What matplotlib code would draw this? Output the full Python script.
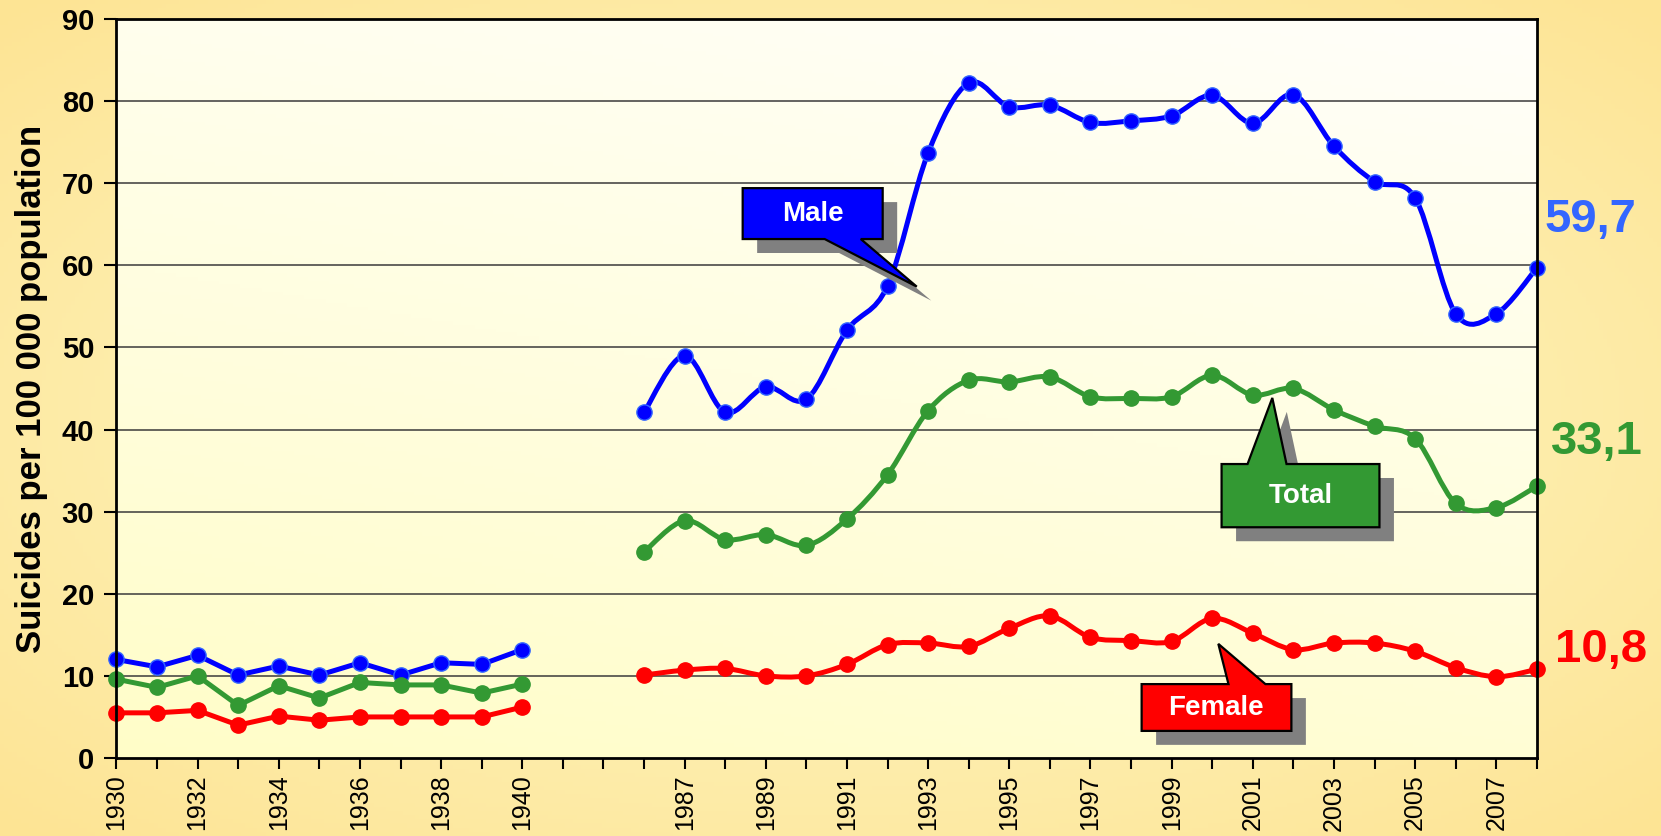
import numpy as np
import matplotlib
matplotlib.use("Agg")
import matplotlib.pyplot as plt
from matplotlib.path import Path
from matplotlib.patches import PathPatch, Polygon

plt.rcParams['font.family'] = ['Liberation Sans', 'DejaVu Sans']

# data
years_early = [1930, 1931, 1932, 1933, 1934, 1935, 1936, 1937, 1938, 1939, 1940]
years_late = [1986, 1987, 1988, 1989, 1990, 1991, 1992, 1993, 1994, 1995, 1996, 1997,
              1998, 1999, 2000, 2001, 2002, 2003, 2004, 2005, 2006, 2007, 2008]

male_early = [12.0, 11.1, 12.5, 10.1, 11.2, 10.1, 11.6, 10.1, 11.6, 11.4, 13.2]
total_early = [9.6, 8.6, 10.0, 6.4, 8.8, 7.3, 9.2, 8.9, 8.9, 7.9, 9.0]
female_early = [5.5, 5.5, 5.8, 4.0, 5.1, 4.6, 5.0, 5.0, 5.0, 5.0, 6.2]

male_late = [42.1, 49.0, 42.1, 45.2, 43.7, 52.1, 57.5, 73.7, 82.2, 79.3, 79.5, 77.4,
             77.6, 78.2, 80.7, 77.3, 80.8, 74.5, 70.2, 68.2, 54.1, 54.1, 59.7]
total_late = [25.1, 28.9, 26.6, 27.2, 25.9, 29.1, 34.5, 42.3, 46.0, 45.8, 46.4, 44.0,
              43.8, 44.0, 46.6, 44.2, 45.0, 42.4, 40.4, 38.9, 31.0, 30.5, 33.1]
female_late = [10.1, 10.7, 10.9, 10.0, 10.0, 11.4, 13.8, 14.0, 13.6, 15.8, 17.3, 14.7,
               14.3, 14.2, 17.0, 15.2, 13.2, 14.0, 14.0, 13.0, 11.0, 9.9, 10.8]

gap_labels = ['', '']
categories = [str(y) for y in years_early] + gap_labels + [str(y) for y in years_late]

BLUE, GREEN, RED = '#0000FF', '#339933', '#FF0000'

x_early = np.arange(len(years_early))
x_late = np.arange(len(years_late)) + len(years_early) + len(gap_labels)


def smooth_path(xs, ys):
    pts = np.column_stack([xs, ys]).astype(float)
    n = len(pts)
    verts = [pts[0]]
    codes = [Path.MOVETO]
    for i in range(n - 1):
        p0 = pts[max(i - 1, 0)]
        p1 = pts[i]
        p2 = pts[i + 1]
        p3 = pts[min(i + 2, n - 1)]
        verts += [p1 + (p2 - p0) / 6.0, p2 - (p3 - p1) / 6.0, p2]
        codes += [Path.CURVE4] * 3
    return Path(verts, codes)


fig = plt.figure(figsize=(16.61, 8.36), dpi=100)

# figure background gradient
bg = fig.add_axes([0, 0, 1, 1], zorder=-10)
gy, gx = np.mgrid[0:1:200j, 0:1:400j]
r = np.clip(np.sqrt((gx - 0.5) ** 2 + (gy - 0.5) ** 2) / 0.7, 0, 1)
c_in = np.array([255, 250, 205]) / 255.0
c_out = np.array([253, 228, 148]) / 255.0
bg.imshow(c_in + (c_out - c_in) * r[..., None], aspect='auto', extent=[0, 1, 0, 1])
bg.axis('off')

ax = fig.add_axes([0.0701, 0.0933, 0.8552, 0.8840])
ax.set_xlim(0, len(categories) - 1)
ax.set_ylim(0, 90)

# plot area gradient
py, px = np.mgrid[0:1:200j, 0:1:400j]
t = np.clip(0.75 * py + 0.25 * (1 - px), 0, 1)
a_top = np.array([255, 255, 250]) / 255.0
a_bot = np.array([255, 253, 200]) / 255.0
ax.imshow(a_top + (a_bot - a_top) * t[..., None], aspect='auto',
          extent=[0, len(categories) - 1, 0, 90], zorder=0)

for v in range(10, 90, 10):
    ax.axhline(v, color='#3a3a3a', lw=1.1, zorder=1)

line_kw = dict(lw=3.6, marker='o', ms=11, zorder=5, clip_on=False)
for ys, col, edge in [(male_early, BLUE, '#3366FF'), (total_early, GREEN, GREEN),
                      (female_early, RED, RED)]:
    ax.plot(x_early, ys, color=col, mec=edge, mew=1, **line_kw)

for ys, col, edge in [(male_late, BLUE, '#3366FF'), (total_late, GREEN, GREEN),
                      (female_late, RED, RED)]:
    ax.add_patch(PathPatch(smooth_path(x_late, ys), fill=False, edgecolor=col,
                           lw=3.6, zorder=4, capstyle='round', joinstyle='round',
                           clip_on=False))
    ax.plot(x_late, ys, ls='none', marker='o', ms=11, color=col, mec=edge, mew=1,
            zorder=5, clip_on=False)

# axes styling
ax.set_xticks(np.arange(len(categories)))
ax.set_xticklabels([c if i % 2 == 0 else '' for i, c in enumerate(categories)],
                   rotation=90)
ax.set_yticks(np.arange(0, 91, 10))
ax.set_yticklabels([str(v) for v in range(0, 91, 10)], fontweight='bold')
ax.tick_params(axis='x', direction='out', length=8, width=1.5, pad=4, labelsize=18)
ax.tick_params(axis='y', direction='out', length=9, width=1.5, pad=7, labelsize=21)
for s in ax.spines.values():
    s.set_linewidth(2)
    s.set_color('black')
    s.set_zorder(6)
ax.set_ylabel('Suicides per 100 000 population', fontsize=25, fontweight='bold',
              labelpad=10)


# callouts
def callout(poly, text, color, tx, ty, dx=0.357, dy=-1.7):
    shadow = [(px_ + dx, py_ + dy) for px_, py_ in poly]
    ax.add_patch(Polygon(shadow, closed=True, facecolor='#808080', edgecolor='none',
                         zorder=7))
    ax.add_patch(Polygon(poly, closed=True, facecolor=color, edgecolor='black',
                         lw=1.6, zorder=8))
    ax.text(tx, ty, text, color='white', fontsize=20, fontweight='bold',
            ha='center', va='center', zorder=9)


callout([(15.43, 69.4), (18.88, 69.4), (18.88, 63.2), (18.34, 63.2), (19.72, 57.4),
         (17.45, 63.2), (15.43, 63.2)], 'Male', BLUE, 17.15, 66.3)
callout([(27.23, 28.1), (31.12, 28.1), (31.12, 35.8), (28.83, 35.8), (28.48, 43.85),
         (27.87, 35.8), (27.23, 35.8)], 'Total', GREEN, 29.18, 31.95)
callout([(25.26, 3.3), (28.95, 3.3), (28.95, 9.0), (28.31, 9.0), (27.15, 13.9),
         (27.40, 9.0), (25.26, 9.0)], 'Female', RED, 27.1, 6.15)

# end values
ax.text(35.18, 65.5, '59,7', color='#3366FF', fontsize=34, fontweight='bold',
        ha='left', va='center', clip_on=False)
ax.text(35.35, 38.5, '33,1', color=GREEN, fontsize=34, fontweight='bold',
        ha='left', va='center', clip_on=False)
ax.text(35.45, 13.2, '10,8', color=RED, fontsize=34, fontweight='bold',
        ha='left', va='center', clip_on=False)

fig.savefig('out.png', dpi=100)
